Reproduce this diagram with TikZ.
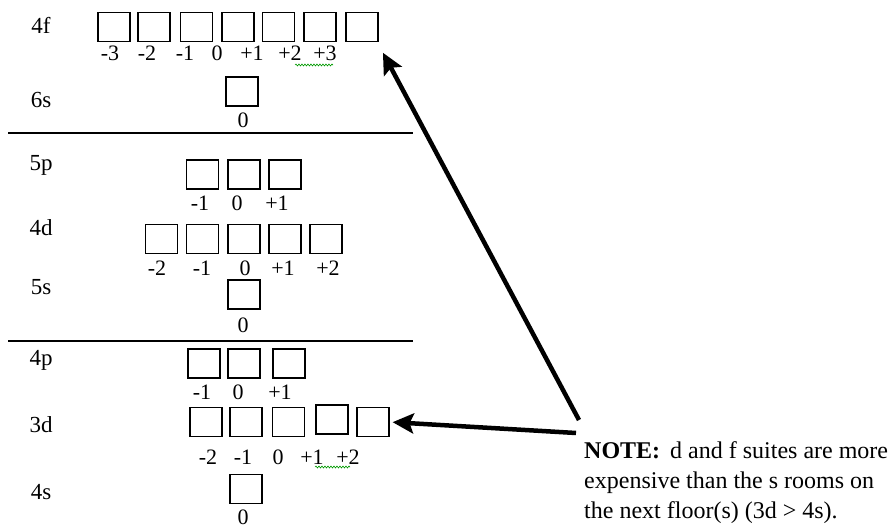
\documentclass[tikz,border=0pt]{standalone}
\usepackage{fontspec}
\setmainfont{Liberation Serif}
\usetikzlibrary{arrows.meta, positioning, decorations.pathmorphing}
\tikzset{
	orb/.style={draw, line width=1.2pt, minimum width=32pt, minimum height=29pt, inner sep=0pt}
}
\tikzset{
	mlabel/.style={font=\fontsize{22}{24}\selectfont, inner sep=0pt}
}
\tikzset{
	shell/.style={font=\fontsize{23}{26}\selectfont, inner sep=0pt}
}
\tikzset{
	bigarrow/.style={line width=4.5pt, -{Stealth[length=21pt, width=20pt, inset=4pt]}}
}
\tikzset{
	squiggle/.style={green!60!black, line width=0.6pt, decorate, decoration={snake, segment length=3pt, amplitude=1pt}}
}

\begin{document}
\begin{tikzpicture}[x=1pt, y=-1pt]
      \useasboundingbox (0,0) rectangle (894,532);

      % floor separators
      \draw[line width=1.3pt] (8,133) -- (413,133);
      \draw[line width=1.3pt] (8,341) -- (413,341);

      % sublevel names
      \foreach \name/\yy in {4f/25, 6s/100, 5p/165, 4d/228, 5s/287, 4p/360, 3d/425, 4s/492} {
        \node[shell] (lab-\name) at (41,\yy) {\name};
      }

      % 4f suite
      \foreach \x [count=\i] in {114,154,196.5,238,278.5,320,362} {
        \node[orb] (f4-\i) at (\x,27) {};
      }
      \foreach \x/\m [count=\i] in {110/-3,147/-2,185/-1,217/0,252/+1,290/+2,325/+3} {
        \node[mlabel] (mf4-\i) at (\x,53) {\m};
      }
      \draw[squiggle] (295,65) -- (333,65);

      % 6s room
      \node[orb] (s6-1) at (242,91.5) {};
      \node[mlabel] (ms6-1) at (243,120) {0};

      % 5p suite
      \foreach \x [count=\i] in {202.5,244,285} {
        \node[orb] (p5-\i) at (\x,174.5) {};
      }
      \foreach \x/\m [count=\i] in {200/-1,237/0,277/+1} {
        \node[mlabel] (mp5-\i) at (\x,203) {\m};
      }

      % 4d suite
      \foreach \x [count=\i] in {161.5,202.5,244,285,326} {
        \node[orb] (d4-\i) at (\x,239) {};
      }
      \foreach \x/\m [count=\i] in {157/-2,202/-1,245/0,283/+1,328/+2} {
        \node[mlabel] (md4-\i) at (\x,268) {\m};
      }

      % 5s room
      \node[orb] (s5-1) at (244,294.5) {};
      \node[mlabel] (ms5-1) at (243,325) {0};

      % 4p suite
      \foreach \x [count=\i] in {204,244,289} {
        \node[orb] (p4-\i) at (\x,363.5) {};
      }
      \foreach \x/\m [count=\i] in {202/-1,238/0,280/+1} {
        \node[mlabel] (mp4-\i) at (\x,392) {\m};
      }

      % 3d suite
      \foreach \x/\yy [count=\i] in {206/422,246/422,288.5/422,332/419.5,373/422} {
        \node[orb] (d3-\i) at (\x,\yy) {};
      }
      \foreach \x/\m [count=\i] in {208/-2,243/-1,278/0,312/+1,348/+2} {
        \node[mlabel] (md3-\i) at (\x,457) {\m};
      }
      \draw[squiggle] (315,467) -- (350,467);

      % 4s room
      \node[orb] (s4-1) at (246,489) {};
      \node[mlabel] (ms4-1) at (243,517) {0};

      % note and arrows
      \node[shell, anchor=north west, align=left, font=\fontsize{24}{30}\selectfont] (note) at (584,441)
        {\textbf{NOTE:}\, d and f suites are more\\expensive than the s rooms on\\the next floor(s) (3d > 4s).};
      \coordinate (tail-f) at (579,420);
      \coordinate (tail-d) at (576,433);
      \draw[bigarrow, shorten >=2pt] (tail-f) -- (382,51);
      \draw[bigarrow, shorten >=3pt] (tail-d) -- (d3-5.east);
    \end{tikzpicture}
\end{document}
